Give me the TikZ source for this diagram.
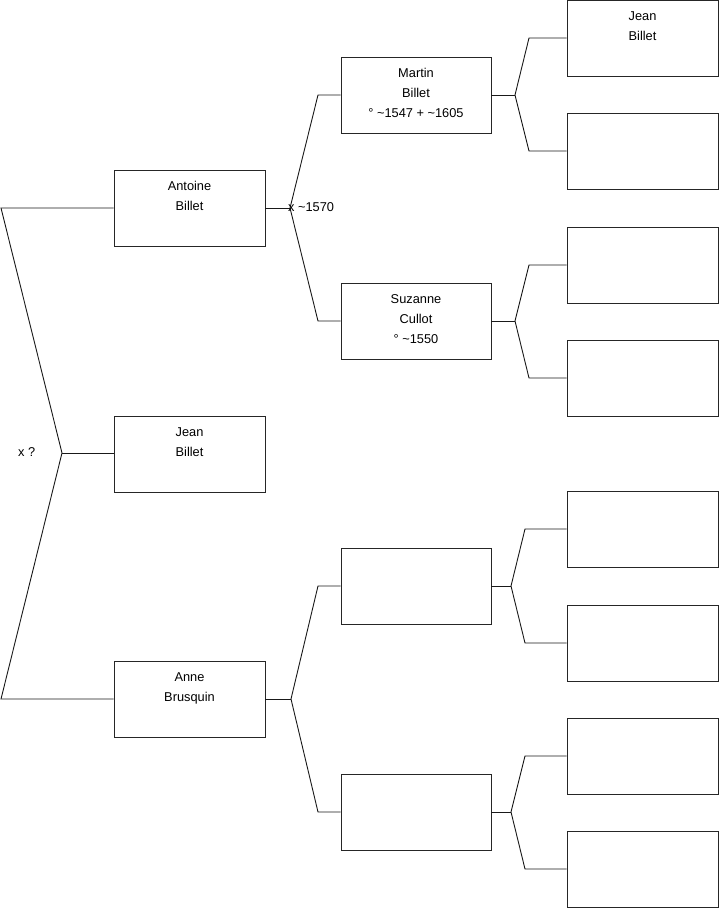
\documentclass[tikz,border=0pt]{standalone}
\usepackage{fontspec}
\setmainfont{Liberation Sans}
\begin{document}
\begin{tikzpicture}[x=1pt,y=-1pt,
  box/.style={draw=black!85,line width=0.9pt,minimum width=151pt,minimum height=76pt,inner sep=0pt},
  boxb/.style={box,minimum width=150pt},
  lbl/.style={align=center,inner sep=0pt,anchor=base,font=\fontsize{12.8}{20}\selectfont},
  con/.style={draw=black!90,line width=0.9pt},
  note/.style={inner sep=0pt,font=\fontsize{12.8}{14}\selectfont}]
\useasboundingbox (0,0) rectangle (719,908);
% column 1
\node[box] (ant) at (189.5,208) {};
\node[box] (jea) at (189.5,454) {};
\node[box] (ann) at (189.5,699) {};
% column 2
\node[boxb] (mar) at (416,95) {};
\node[boxb] (suz) at (416,321) {};
\node[boxb] (e1) at (416,586) {};
\node[boxb] (e2) at (416,812) {};
% column 3
\node[box] (c1) at (642.5,38) {};
\node[box] (c2) at (642.5,151) {};
\node[box] (c3) at (642.5,265) {};
\node[box] (c4) at (642.5,378) {};
\node[box] (c5) at (642.5,529) {};
\node[box] (c6) at (642.5,643) {};
\node[box] (c7) at (642.5,756) {};
\node[box] (c8) at (642.5,869) {};
% labels (base = baseline of last line)
\node[lbl] at ([yshift=-40.5pt]ant.north) {Antoine\\Billet};
\node[lbl] at ([yshift=-40.5pt]jea.north) {Jean\\Billet};
\node[lbl] at ([yshift=-40.5pt]ann.north) {Anne\\Brusquin};
\node[lbl] at ([yshift=-60.5pt]mar.north) {Martin\\Billet\\° \textasciitilde1547 + \textasciitilde1605};
\node[lbl] at ([yshift=-60.5pt]suz.north) {Suzanne\\Cullot\\° \textasciitilde1550};
\node[lbl] at ([yshift=-40.5pt]c1.north) {Jean\\Billet};
% forks
\coordinate (f0a) at (1,208);
\coordinate (f0) at (62,453);
\coordinate (f0b) at (1,699);
\draw[con] (ant.west) -- (f0a) -- (f0) -- (f0b) -- (ann.west);
\draw[con] (f0) -- (jea.west |- f0);
\node[note,anchor=east] (xq) at (35.5,452) {x ?};

\coordinate (f1) at (290,208);
\draw[con] (ant.east) -- (f1);
\draw[con] (f1) -- (318,95) -- (mar.west);
\draw[con] (f1) -- (318,321) -- (suz.west);
\node[note,anchor=west] (x1570) at (288,207.5) {x \textasciitilde1570};

\coordinate (f2) at (291,699);
\draw[con] (ann.east) -- (f2);
\draw[con] (f2) -- (318,586) -- (e1.west);
\draw[con] (f2) -- (318,812) -- (e2.west);

\coordinate (g1) at (515,95);
\draw[con] (mar.east) -- (g1);
\draw[con] (g1) -- (529,38) -- (c1.west);
\draw[con] (g1) -- (529,151) -- (c2.west);

\coordinate (g2) at (515,321);
\draw[con] (suz.east) -- (g2);
\draw[con] (g2) -- (529,265) -- (c3.west);
\draw[con] (g2) -- (529,378) -- (c4.west);

\coordinate (g3) at (511,586);
\draw[con] (e1.east) -- (g3);
\draw[con] (g3) -- (525,529) -- (c5.west);
\draw[con] (g3) -- (525,643) -- (c6.west);

\coordinate (g4) at (511,812);
\draw[con] (e2.east) -- (g4);
\draw[con] (g4) -- (525,756) -- (c7.west);
\draw[con] (g4) -- (525,869) -- (c8.west);
\end{tikzpicture}
\end{document}
